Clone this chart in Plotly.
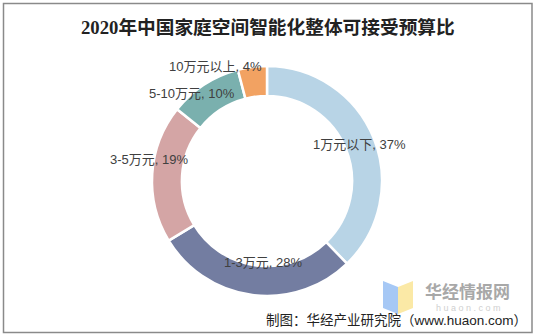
import math
import plotly.graph_objects as go

# ---- data ----
categories = ["1万元以下", "1-3万元", "3-5万元", "5-10万元", "10万元以上"]
values = [37, 28, 19, 10, 4]
colors = ["#b8d4e6", "#737da1", "#d4a5a5", "#7ab0ae", "#f2a262"]
title = "2020年中国家庭空间智能化整体可接受预算比"
source = "制图：华经产业研究院（www.huaon.com）"

W, H = 536, 336
CX, CY, R = 267, 181, 115
# label offsets (pixels) relative to slice mid-point at radius 100
label_offsets = [(0, 1), (9, -18), (-18, -15), (-20, -4), (-39, -15)]


def px(x):
    return x / W


def py(y):
    return 1 - y / H


fig = go.Figure(go.Pie(
    labels=categories,
    values=values,
    sort=False,
    direction="clockwise",
    rotation=0,
    hole=0.74,
    marker=dict(colors=colors, line=dict(color="white", width=2.5)),
    textinfo="none",
    hoverinfo="label+value",
    showlegend=False,
    domain=dict(x=[px(CX - R), px(CX + R)], y=[py(CY + R), py(CY - R)]),
))

annotations = []
total = sum(values)
cum = 0
for cat, v, (dx, dy) in zip(categories, values, label_offsets):
    mid = (cum + v / 2) / total
    cum += v
    ang = 2 * math.pi * mid
    lx = CX + 100 * math.sin(ang) + dx
    ly = CY - 100 * math.cos(ang) + dy
    annotations.append(dict(
        x=px(lx), y=py(ly), xref="paper", yref="paper",
        text=f"{cat}, {v}%", showarrow=False,
        xanchor="center", yanchor="middle",
        font=dict(family="Liberation Sans, Noto Sans CJK SC", size=13, color="#404040"),
    ))

# title
annotations.append(dict(
    x=0.5, y=py(27), xref="paper", yref="paper", text=f"<b>{title}</b>",
    showarrow=False, xanchor="center", yanchor="middle",
    font=dict(family="Liberation Serif, Noto Sans CJK SC", size=18.7, color="#222222"),
))
# watermark
annotations.append(dict(
    x=px(467), y=py(290), xref="paper", yref="paper", text="<b>华经情报网</b>",
    showarrow=False, xanchor="center", yanchor="middle",
    font=dict(family="Noto Sans CJK SC", size=17, color="#a8a8a8"),
))
annotations.append(dict(
    x=px(468), y=py(308), xref="paper", yref="paper", text="h u a o n . c o m",
    showarrow=False, xanchor="center", yanchor="middle",
    font=dict(family="Liberation Sans", size=9, color="#d0d0d0"),
))
# source
annotations.append(dict(
    x=px(529), y=py(320), xref="paper", yref="paper", text=source,
    showarrow=False, xanchor="right", yanchor="middle",
    font=dict(family="Liberation Sans, Noto Sans CJK SC", size=13.5, color="#222222"),
))


def poly(points):
    return "M " + " L ".join(f"{px(x)},{py(y)}" for x, y in points) + " Z"


shapes = [
    dict(type="rect", xref="paper", yref="paper", x0=px(3.5), x1=px(532), y0=py(332.5), y1=py(3.5),
         line=dict(color="#8a8a8a", width=1.5), fillcolor="rgba(0,0,0,0)", layer="above"),
    dict(type="path", xref="paper", yref="paper", path=poly([(383, 281), (398, 287), (398, 314), (383, 308)]),
         fillcolor="#a6c8f5", line=dict(width=0), layer="below"),
    dict(type="path", xref="paper", yref="paper", path=poly([(398, 287), (413, 281), (413, 308), (398, 314)]),
         fillcolor="#fbe9a6", line=dict(width=0), layer="below"),
]

fig.update_layout(
    width=W, height=H,
    margin=dict(l=0, r=0, t=0, b=0),
    paper_bgcolor="white",
    plot_bgcolor="white",
    annotations=annotations,
    shapes=shapes,
)

fig.write_html("out.html")
